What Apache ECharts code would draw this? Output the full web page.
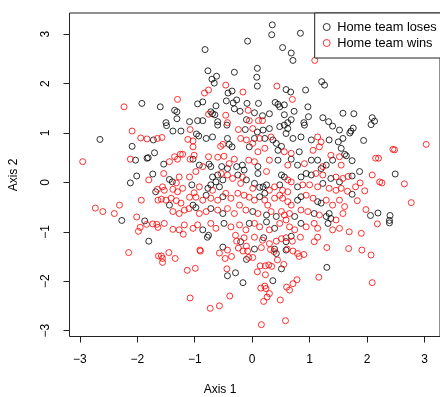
<!DOCTYPE html>
<html><head><meta charset="utf-8">
<script src="https://cdn.jsdelivr.net/npm/echarts@6/dist/echarts.min.js"></script>
<style>html,body{margin:0;padding:0;background:#fff}#c{width:440px;height:397px}</style>
</head><body><div id="c"></div>
<script>
var xTicks = [-3, -2, -1, 0, 1, 2, 3];
var yTicks = [-3, -2, -1, 0, 1, 2, 3];
var seriesNames = ['Home team loses', 'Home team wins'];
var axisTitles = ['Axis 1', 'Axis 2'];

var losesPoints = [
[-1.92,1.60],[-1.60,1.53],
[-0.82,2.69],[-0.08,2.86],[-0.77,2.26],[-0.62,2.15],[-0.70,2.09],[-0.66,2.01],[-0.31,2.23],[-0.42,1.81],[-0.35,1.85],[-0.86,1.63],[-0.95,1.59],[-0.45,1.65],[-0.27,1.67],[-0.33,1.61],[-0.63,1.55],[-0.09,1.60],[-0.31,1.49],[-0.21,1.44],[-1.35,1.46],[-1.31,1.43],[-1.31,1.29],[-0.72,1.43],[-0.69,1.39],[-0.65,1.37],[-1.09,1.23],[-0.95,1.25],[-0.86,1.25],[-0.60,1.23],[-0.10,1.27],[-1.50,1.21],
[0.35,3.19],[0.34,2.99],[0.84,3.02],[0.53,2.73],[0.68,2.62],[0.71,2.47],[0.09,2.31],[0.08,2.13],[0.09,1.95],[0.59,1.88],[0.67,1.83],[0.93,1.87],[1.21,2.04],[1.26,1.97],[0.11,1.60],[0.40,1.62],[0.45,1.58],[0.48,1.53],[0.56,1.57],[0.97,1.53],[0.73,1.44],[0.30,1.39],[0.18,1.35],[0.04,1.41],[0.56,1.37],[0.98,1.33],[1.23,1.31],[0.68,1.27],[0.62,1.21],[0.90,1.21],[1.33,1.23],[1.58,1.40],
[1.77,1.39],[2.09,1.31],[2.13,1.24],
[-2.65,0.87],[-1.72,0.86],[-2.09,0.73],[-2.03,0.45],[-1.83,0.49],[-1.81,0.50],[-1.70,0.60],[-2.01,0.13],[-2.12,-0.01],[-1.73,0.17],[-1.68,-0.19],[-2.27,-0.77],[-1.87,-0.78],
[1.76,1.10],[1.72,1.04],[1.70,1.00],[2.07,1.17],[1.58,0.89],[1.94,0.85],[1.61,0.57],[1.64,0.54],[1.74,0.44],[1.87,0.22],[1.74,0.13],[2.49,0.17],[1.74,-0.24],[2.06,-0.67],[2.19,-0.62],[2.40,-0.67],[2.39,-0.77],[2.39,-0.82],
[-1.80,-1.19],
[-0.78,-1.11],[-0.76,-1.07],[-0.51,-1.31],[-0.43,-1.89],[-0.29,-1.83],[-0.16,-2.03],[-0.20,-1.20],[-0.10,-1.56],
[0.20,-1.12],[0.68,-1.09],[0.59,-1.20],[0.04,-1.35],[0.39,-1.35],[0.42,-1.44],[0.59,-1.37],[1.30,-1.72],[0.51,-1.75],[0.36,-1.99],
[-1.49,1.15],[-1.38,1.04],[-1.24,1.04],[-0.97,0.98],[-0.93,0.94],[-0.80,0.89],[-0.69,0.92],[-0.60,1.16],[-0.44,1.16],[-0.43,0.89],[-0.40,0.77],[-0.35,0.72],[-0.12,1.07],[-0.05,0.72],[-1.54,0.37],[-1.03,0.47],[-0.92,0.35],[-0.75,0.37],[-0.72,0.32],[-0.53,0.32],[-0.43,0.28],[-0.27,0.32],[-0.17,0.35],[-0.14,0.25],[-1.44,0.06],[-1.39,0.01],[-1.05,-0.05],[-0.69,0.11],[-0.60,0.15],[-0.51,0.05],[-0.63,0.01],[-0.72,-0.05],[-0.77,-0.12],[-0.57,-0.09],[-0.25,0.15],[-0.10,0.05],[-1.44,-0.46],[-0.80,-0.26],[-0.51,-0.29],[-1.03,-0.46],[-0.98,-0.51],[-0.72,-0.53],[-0.51,-0.63],[-0.86,-0.96],[-0.49,-0.83],[-0.05,-0.83],
[0.09,1.02],[0.19,1.06],[0.30,1.09],[0.48,1.13],[0.56,1.16],[0.62,1.09],[0.59,0.99],[0.36,0.86],[0.42,0.79],[0.51,0.73],[0.45,0.65],[0.04,0.89],[0.22,0.89],[0.71,0.89],[0.85,0.92],[0.91,1.16],[1.03,0.86],[1.34,0.86],[1.40,1.14],[1.52,1.06],[1.50,0.82],[1.55,0.69],[0.82,0.62],[0.10,0.32],[0.45,0.45],[0.68,0.47],[0.79,0.35],[1.03,0.45],[1.14,0.45],[1.20,0.28],[1.29,0.35],[1.40,0.45],[0.10,0.18],[0.51,0.15],[0.56,0.11],[0.85,0.11],[0.94,0.18],[1.03,0.15],[1.37,0.08],[1.52,0.01],[0.04,-0.02],[0.13,-0.10],[0.19,-0.09],[0.25,-0.05],[0.22,-0.22],[0.48,-0.05],[0.79,-0.09],[1.23,-0.02],[0.13,-0.29],[0.79,-0.36],[0.85,-0.29],[1.14,-0.39],[1.20,-0.42],[0.01,-0.59],[0.25,-0.66],[0.42,-0.69],[0.74,-0.69],[1.08,-0.63],[1.29,-0.69],[1.34,-0.63],[1.37,-0.73],[0.25,-0.80],[0.39,-0.93],[0.85,-0.83],[1.32,-0.83]
];

var winsPoints = [
[-2.23,1.53],
[-0.46,1.97],[-0.76,1.87],[-0.83,1.81],[-0.16,1.83],[-1.30,1.68],[-0.07,1.46],[-0.76,1.38],[-0.46,1.36],[-0.43,1.21],[-0.05,1.25],
[1.09,2.47],[0.43,1.95],[0.70,1.68],[0.11,1.25],[0.18,1.25],
[-2.09,1.04],[-1.94,0.90],[-1.83,0.88],[-1.65,0.89],[-2.95,0.42],[-2.12,0.47],[-1.80,0.05],[-1.65,-0.14],[-1.93,-0.36],[-1.64,-0.36],[-2.31,-0.46],[-2.73,-0.52],[-2.60,-0.59],[-2.40,-0.63],[-2.01,-0.70],[-1.84,-0.85],[-1.73,-0.84],[-1.66,-0.85],[-1.95,-0.91],[-1.98,-0.99],[-1.64,-0.91],
[2.45,0.67],[2.48,0.66],[3.03,0.77],[2.15,0.49],[2.20,0.49],[1.67,0.12],[2.09,0.15],[1.58,0.08],[2.22,0.01],[2.26,-0.01],[2.65,-0.03],[1.88,-0.01],[1.80,-0.09],[1.66,-0.18],[1.96,-0.17],[1.83,-0.37],[2.77,-0.41],[1.61,-0.49],[1.58,-0.63],[1.98,-0.55],[2.18,-0.84],[1.69,-1.00],[1.90,-1.03],
[-2.15,-1.42],[-1.63,-1.49],
[-1.20,-1.05],[-1.58,-1.49],[-1.56,-1.54],[-1.56,-1.62],[-1.45,-1.42],[-1.34,-1.54],[-0.91,-1.37],[-0.90,-1.39],[-0.43,-1.37],[-0.57,-1.43],[-0.47,-1.54],[-0.36,-1.50],[-1.13,-1.78],[-0.99,-1.74],[-0.44,-1.75],[-1.08,-2.34],[-0.39,-2.30],[-0.57,-2.50],[-0.73,-2.55],[-0.29,-1.07],[-0.27,-1.19],[-0.24,-1.33],[-0.16,-1.39],[-0.10,-1.29],[-0.08,-1.39],[-0.06,-1.52],[-0.14,-1.12],
[0.04,-1.11],[0.18,-1.17],[0.30,-1.24],[0.42,-1.19],[0.51,-1.14],[0.59,-1.12],[0.70,-1.19],[0.84,-1.11],[1.08,-1.20],[1.14,-1.11],[0.16,-1.32],[0.32,-1.36],[0.38,-1.40],[0.61,-1.35],[0.71,-1.39],[0.79,-1.44],[0.82,-1.50],[0.90,-1.46],[1.30,-1.32],[0.01,-1.52],[0.44,-1.57],[0.55,-1.66],[0.14,-1.69],[0.23,-1.69],[0.29,-1.67],[0.34,-1.70],[0.09,-1.81],[0.23,-1.87],[1.16,-1.92],[0.78,-1.97],[0.71,-2.05],[0.60,-2.12],[0.65,-2.18],[0.15,-2.14],[0.22,-2.10],[0.24,-2.15],[0.30,-2.25],[0.26,-2.32],[0.20,-2.41],[0.49,-2.38],[0.16,-2.88],[0.58,-2.80],
[1.68,-1.34],[1.91,-1.37],[2.07,-1.47],[2.09,-2.03],
[-1.57,0.91],[-1.08,1.07],[-0.55,0.73],[-0.51,0.77],[-0.24,1.07],[-0.20,0.89],[-0.10,0.86],[-1.12,0.87],[-1.03,0.84],[-1.03,0.72],[-1.25,0.57],[-1.21,0.57],[-1.30,0.47],[-1.35,0.52],[-1.44,0.42],[-1.08,0.47],[-1.01,0.55],[-0.76,0.52],[-0.86,0.32],[-0.98,0.22],[-0.60,0.51],[-0.49,0.53],[-0.40,0.38],[-0.31,0.47],[-0.06,0.45],[-1.54,0.18],[-1.27,0.11],[-1.32,-0.01],[-1.09,0.11],[-0.92,-0.09],[-0.54,0.18],[-0.69,-0.16],[-0.43,0.15],[-0.34,0.08],[-0.17,0.11],[-0.20,-0.02],[-1.56,-0.09],[-1.53,-0.16],[-1.38,-0.14],[-1.30,-0.19],[-1.21,-0.12],[-1.58,-0.34],[-1.50,-0.36],[-1.41,-0.32],[-1.32,-0.37],[-1.24,-0.42],[-1.09,-0.30],[-1.01,-0.21],[-0.98,-0.30],[-0.86,-0.36],[-0.72,-0.32],[-0.60,-0.36],[-0.46,-0.22],[-0.37,-0.32],[-0.25,-0.22],[-0.14,-0.26],[-0.05,-0.30],[-1.38,-0.59],[-1.27,-0.63],[-1.18,-0.56],[-1.10,-0.53],[-0.92,-0.63],[-0.80,-0.59],[-0.60,-0.56],[-0.43,-0.53],[-0.31,-0.63],[-0.22,-0.46],[-0.11,-0.56],[-1.53,-0.83],[-1.38,-0.95],[-1.27,-0.96],[-1.18,-0.86],[-1.03,-0.93],[-0.95,-0.86],[-0.72,-0.83],[-0.63,-0.93],[-0.37,-0.90],[-0.22,-0.86],[-0.11,-0.96],
[0.01,1.09],[0.33,0.92],[0.01,0.79],[0.13,0.89],[1.14,0.92],[1.20,0.82],[1.17,0.72],[0.56,0.62],[0.68,0.59],[1.06,0.65],[1.37,0.55],[1.52,0.52],[0.10,0.62],[0.22,0.69],[0.04,0.42],[0.30,0.45],[0.62,0.35],[0.91,0.38],[1.23,0.32],[1.55,0.35],[0.25,0.22],[0.62,0.05],[0.68,0.01],[1.11,0.18],[1.23,0.15],[1.46,0.11],[0.01,-0.12],[0.30,-0.16],[0.39,-0.09],[0.53,-0.16],[0.62,-0.19],[0.88,-0.05],[1.00,-0.05],[1.14,-0.09],[1.34,-0.12],[1.46,-0.16],[1.55,-0.12],[0.04,-0.36],[0.22,-0.36],[0.27,-0.46],[0.39,-0.32],[0.48,-0.26],[0.53,-0.32],[0.62,-0.39],[0.68,-0.46],[0.94,-0.26],[1.06,-0.32],[1.29,-0.36],[1.40,-0.46],[1.52,-0.36],[0.10,-0.63],[0.33,-0.59],[0.51,-0.59],[0.56,-0.66],[0.65,-0.63],[0.85,-0.56],[0.97,-0.59],[1.17,-0.66],[1.46,-0.76],[0.04,-0.83],[0.13,-0.90],[0.30,-0.96],[0.48,-0.83],[0.59,-0.76],[0.65,-0.90],[0.74,-0.96],[0.94,-0.90],[1.08,-0.83],[1.14,-0.93],[1.40,-0.96],[1.52,-0.93]
];

var FONT = '"Liberation Sans", Arial, Helvetica, sans-serif';
function fmt(v){ return String(v).replace('-', '\u2212'); }
var chart = echarts.init(document.getElementById('c'), null, {renderer:'canvas'});
chart.setOption({
  animation: false,
  backgroundColor: '#fff',
  grid: {left: 69.5, top: 13, right: -1, bottom: 60.5, show: true, borderColor: '#222', borderWidth: 1, backgroundColor: 'transparent'},
  xAxis: {
    type: 'value', min: -3.18, max: 3.27, position: 'bottom',
    axisLine: {show: false, onZero: false},
    splitLine: {show: false},
    minorTick: {show: false},
    axisTick: {show: true, length: 6, customValues: xTicks, lineStyle: {color: '#222'}},
    axisLabel: {customValues: xTicks, formatter: fmt, fontFamily: FONT, fontSize: 12, color: '#000', margin: 17, showMinLabel: true, showMaxLabel: true}
  },
  yAxis: {
    type: 'value', min: -3.12, max: 3.43, position: 'left',
    axisLine: {show: false, onZero: false},
    splitLine: {show: false},
    minorTick: {show: false},
    axisTick: {show: true, length: 6, customValues: yTicks, lineStyle: {color: '#222'}},
    axisLabel: {customValues: yTicks, formatter: fmt, rotate: 90, fontFamily: FONT, fontSize: 12, color: '#000', margin: 18}
  },
  legend: {
    orient: 'vertical', left: 314.7, top: 13,
    padding: [7, 30, 8, 8], itemGap: 2, itemWidth: 7, itemHeight: 7,
    borderColor: '#222', borderWidth: 1, borderRadius: 0, backgroundColor: '#fff',
    icon: 'circle',
    textStyle: {fontFamily: FONT, fontSize: 12.8, color: '#000', lineHeight: 14, padding: [0,0,0,2]},
    data: [
      {name: seriesNames[0], itemStyle: {color: 'transparent', borderColor: '#000', borderWidth: 1}},
      {name: seriesNames[1], itemStyle: {color: 'transparent', borderColor: '#ff0000', borderWidth: 1}}
    ]
  },
  graphic: [
    {type: 'text', left: 'center', top: 384, style: {text: axisTitles[0], font: '12px ' + FONT, fill: '#000'}},
    {type: 'text', x: 14, y: 175, rotation: Math.PI/2, style: {text: axisTitles[1], font: '12px ' + FONT, fill: '#000', align: 'center', verticalAlign: 'middle'}}
  ],
  series: [
    {name: seriesNames[0], type: 'scatter', data: losesPoints, symbol: 'circle', symbolSize: 6,
     itemStyle: {color: 'transparent', borderColor: '#000', borderWidth: 1}},
    {name: seriesNames[1], type: 'scatter', data: winsPoints, symbol: 'circle', symbolSize: 6,
     itemStyle: {color: 'transparent', borderColor: '#ff0000', borderWidth: 1}}
  ]
});
</script></body></html>
